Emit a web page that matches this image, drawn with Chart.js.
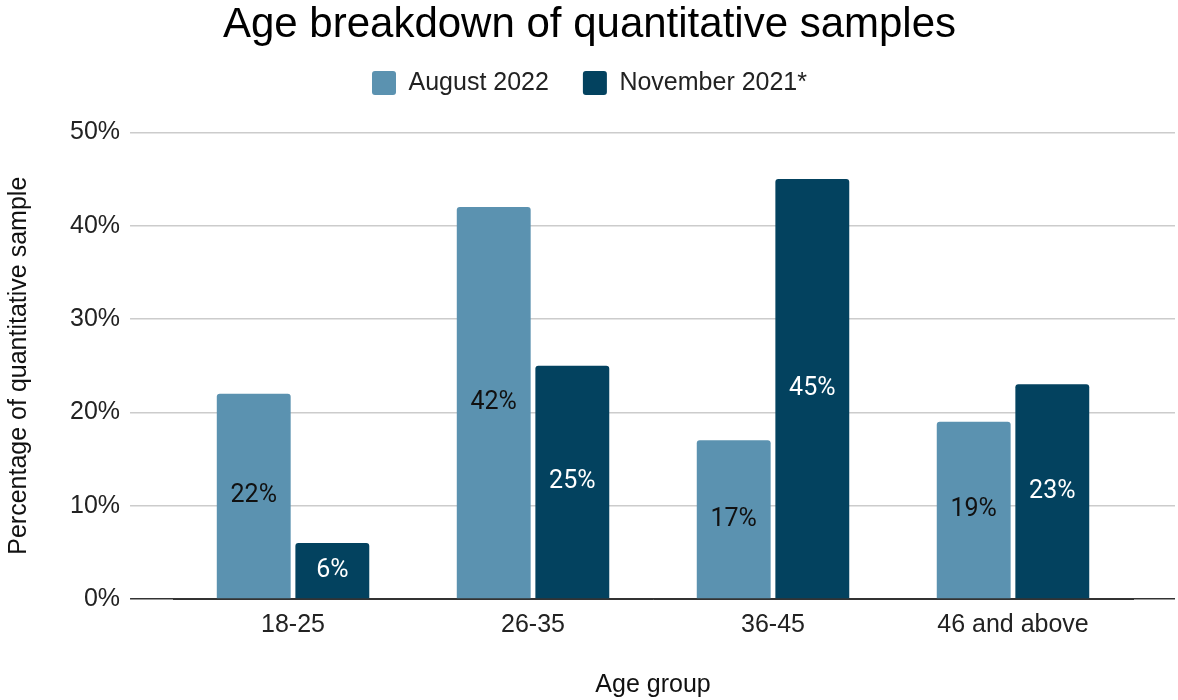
<!DOCTYPE html>
<html>
<head>
<meta charset="utf-8">
<script src="https://cdn.jsdelivr.net/npm/chart.js@4/dist/chart.umd.min.js"></script>
<style>
  html, body { margin: 0; padding: 0; background: #fff; }
  #wrap { width: 1178px; height: 700px; }
</style>
</head>
<body>
<div id="wrap"><canvas id="ageChart" width="1178" height="700"></canvas></div>
<script>
const ageGroups = ['18-25', '26-35', '36-45', '46 and above'];
const august2022 = [22, 42, 17, 19];
const november2021 = [6, 25, 45, 23];
const yTicks = [0, 10, 20, 30, 40, 50];

// labels drawn in the middle of each bar
const barLabels = {
    id: 'barLabels',
    afterDatasetsDraw(chart) {
        const ctx = chart.ctx;
        ctx.save();
        ctx.font = '25px Roboto';
        ctx.textAlign = 'center';
        ctx.textBaseline = 'middle';
        chart.data.datasets.forEach((ds, i) => {
            chart.getDatasetMeta(i).data.forEach((bar, j) => {
                ctx.fillStyle = i === 0 ? '#111' : '#fff';
                ctx.fillText(ds.data[j] + '%', bar.x, (bar.y + bar.base) / 2);
            });
        });
        ctx.restore();
    }
};

// extra room between legend and plot
const legendGap = {
    id: 'legendGap',
    beforeInit(chart) {
        const fit = chart.legend.fit;
        chart.legend.fit = function () {
            fit.bind(chart.legend)();
            this.height += 27;
        };
    }
};

const ctx = document.getElementById('ageChart').getContext('2d');
new Chart(ctx, {
    type: 'bar',
    data: {
        labels: ageGroups,
        datasets: [{
            label: 'August 2022',
            data: august2022,
            backgroundColor: '#5b92b0',
            borderRadius: 3,
            borderSkipped: 'bottom'
        }, {
            label: 'November 2021*',
            data: november2021,
            backgroundColor: '#03425f',
            borderRadius: 3,
            borderSkipped: 'bottom'
        }]
    },
    options: {
        responsive: false,
        animation: false,
        categoryPercentage: 0.655,
        barPercentage: 0.94,
        layout: { padding: { top: 0, right: 3, left: 4, bottom: 0 } },
        plugins: {
            title: {
                display: true,
                text: 'Age breakdown of quantitative samples',
                color: '#000',
                font: { family: 'Liberation Sans', size: 42, weight: 'normal' },
                padding: { top: 0, bottom: -14 }
            },
            legend: {
                labels: {
                    color: '#222',
                    font: { family: 'Liberation Sans', size: 25 },
                    boxWidth: 24,
                    boxHeight: 24,
                    useBorderRadius: true,
                    borderRadius: 3,
                    padding: 34
                }
            },
            tooltip: { enabled: false }
        },
        scales: {
            x: {
                grid: { display: false },
                border: { color: '#333' },
                ticks: {
                    color: '#222',
                    font: { family: 'Liberation Sans', size: 25 },
                    padding: 3
                },
                title: {
                    display: true,
                    text: 'Age group',
                    color: '#111',
                    font: { family: 'Liberation Sans', size: 25 },
                    padding: { top: 27, bottom: 0 }
                }
            },
            y: {
                min: 0,
                max: 50,
                afterBuildTicks: axis => { axis.ticks = yTicks.map(v => ({ value: v })); },
                border: { display: false },
                grid: {
                    color: c => c.tick && c.tick.value === 0 ? '#333' : '#ccc',
                    lineWidth: 1.5,
                    tickLength: 43
                },
                ticks: {
                    color: '#222',
                    font: { family: 'Liberation Sans', size: 25 },
                    padding: 10,
                    callback: v => v + '%'
                },
                title: {
                    display: true,
                    text: 'Percentage of quantitative sample',
                    color: '#111',
                    font: { family: 'Liberation Sans', size: 25 },
                    padding: { top: 0, bottom: 26 }
                }
            },
            yRight: {
                position: 'right',
                min: 0,
                max: 50,
                afterBuildTicks: axis => { axis.ticks = yTicks.map(v => ({ value: v })); },
                border: { display: false },
                grid: {
                    drawOnChartArea: false,
                    color: c => c.tick && c.tick.value === 0 ? '#333' : '#ccc',
                    lineWidth: 1.5,
                    tickLength: 42
                },
                ticks: { display: false }
            }
        }
    },
    plugins: [barLabels, legendGap]
});
</script>
</body>
</html>
